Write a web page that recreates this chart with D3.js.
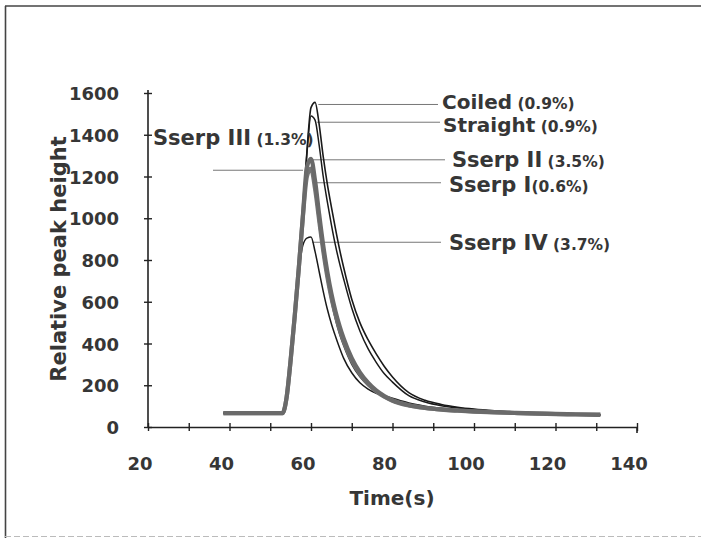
<!DOCTYPE html>
<html>
<head>
<meta charset="utf-8">
<script src="https://cdn.jsdelivr.net/npm/d3@7/dist/d3.min.js"></script>
<style>
  html, body { margin: 0; padding: 0; background: #ffffff; }
  svg { display: block; }
  text { font-family: "DejaVu Sans", "Liberation Sans", Arial, sans-serif; font-weight: bold; fill: #363636; }
</style>
</head>
<body>
<svg id="chart" width="701" height="538"></svg>
<script>
// Sampling times (s) shared by every trace
const times = [38.5, 53, 54, 55, 56, 57, 58, 59, 60, 61, 62, 63, 64, 65, 66, 67, 68,
               70, 72, 74, 76, 78, 80, 84, 88, 92, 96, 100, 105, 110, 115, 120, 125, 131];

// Relative peak height for each sample
const coiled   = [66, 66, 140, 320, 530, 760, 1030, 1320, 1530, 1555, 1450, 1295, 1165, 1055, 950, 852, 765,
                  612, 500, 418, 350, 290, 240, 165, 128, 108, 95, 86, 78, 72, 68, 64, 61, 58];
const straight = [66, 66, 140, 320, 530, 760, 1030, 1310, 1490, 1470, 1350, 1200, 1080, 970, 870, 785, 710,
                  570, 460, 375, 310, 255, 215, 150, 120, 102, 91, 83, 76, 70, 66, 62, 60, 57];
const sserpII  = [66, 66, 140, 320, 530, 760, 1010, 1245, 1285, 1180, 1020, 870, 745, 640, 555, 485, 425,
                  330, 262, 212, 175, 148, 128, 105, 92, 84, 79, 75, 71, 68, 65, 63, 61, 59];
const sserpI   = [66, 66, 140, 320, 530, 760, 1005, 1200, 1238, 1140, 990, 845, 720, 620, 540, 470, 412,
                  320, 255, 207, 171, 145, 126, 103, 91, 83, 78, 74, 70, 67, 64, 62, 60, 58];
const sserpIII = [66, 66, 140, 320, 530, 760, 1000, 1195, 1228, 1120, 960, 820, 700, 600, 515, 445, 390,
                  300, 240, 198, 168, 146, 130, 108, 94, 85, 79, 75, 71, 67, 64, 62, 60, 58];
const sserpIV  = [66, 66, 140, 320, 530, 740, 870, 905, 910, 840, 745, 650, 565, 495, 435, 380, 330,
                  260, 212, 182, 162, 150, 138, 115, 100, 90, 83, 78, 73, 69, 66, 63, 61, 58];

// Trace names and their stated precision
const names    = ["Sserp II", "Sserp I", "Sserp III", "Sserp IV", "Straight", "Coiled"];
const percents = ["(3.5%)", "(0.6%)", "(1.3%)", "(3.7%)", "(0.9%)", "(0.9%)"];
const traces   = [sserpII, sserpI, sserpIII, sserpIV, straight, coiled];

// Height at which each label's leader line meets its trace
const leaderValues = [1280, 1170, 1230, 885, 1460, 1545];

const xTicks = [20, 40, 60, 80, 100, 120, 140];
const xMinorTicks = [20, 30, 40, 50, 60, 70, 80, 90, 100, 110, 120, 130, 140];
const yTicks = [0, 200, 400, 600, 800, 1000, 1200, 1400, 1600];

const svg = d3.select("#chart");

// Outer frame (top and left edges, faint bottom edge)
svg.append("line").attr("x1", 5).attr("y1", 6).attr("x2", 701).attr("y2", 6)
  .attr("stroke", "#444").attr("stroke-width", 1.6);
svg.append("line").attr("x1", 5.5).attr("y1", 6).attr("x2", 5.5).attr("y2", 538)
  .attr("stroke", "#444").attr("stroke-width", 1.6);
svg.append("line").attr("x1", 5).attr("y1", 536.5).attr("x2", 701).attr("y2", 536.5)
  .attr("stroke", "#bbb").attr("stroke-width", 1).attr("stroke-dasharray", "6,3");

const x = d3.scaleLinear().domain([20, 140]).range([148, 637]);
const y = d3.scaleLinear().domain([0, 1600]).range([427, 93]);

// X axis: crossing tick marks every 10 s
const xAxis = svg.append("g").attr("transform", `translate(0,${y(0)})`)
  .call(d3.axisBottom(x).tickValues(xMinorTicks).tickSizeInner(4).tickSizeOuter(0).tickFormat(""));
xAxis.select(".domain").attr("stroke", "#222").attr("stroke-width", 1.6);
xAxis.selectAll(".tick line").attr("y1", -4).attr("stroke", "#222").attr("stroke-width", 1.4);
xAxis.append("line").attr("x1", x(140)).attr("x2", x(140)).attr("y1", 0).attr("y2", 6)
  .attr("stroke", "#222").attr("stroke-width", 1.6);

svg.append("g").selectAll("text").data(xTicks).join("text")
  .attr("x", d => x(d) - 8).attr("y", 470)
  .attr("text-anchor", "middle").attr("font-size", 18)
  .text(d => d);

// Y axis
const yAxis = svg.append("g").attr("transform", `translate(${x(20)},0)`)
  .call(d3.axisLeft(y).tickValues(yTicks).tickSizeInner(4).tickSizeOuter(0).tickFormat(""));
yAxis.select(".domain").attr("stroke", "#222").attr("stroke-width", 1.6)
  .attr("d", `M0,${y(0)}V${y(1600) - 3}`);
yAxis.selectAll(".tick line").attr("x2", -4).attr("x1", 4).attr("stroke", "#222").attr("stroke-width", 1.4);

svg.append("g").selectAll("text").data(yTicks).join("text")
  .attr("x", 119).attr("y", d => y(d) + 7)
  .attr("text-anchor", "end").attr("font-size", 18)
  .text(d => d);

// Axis titles
svg.append("text").attr("x", 392).attr("y", 505).attr("text-anchor", "middle")
  .attr("font-size", 20).text("Time(s)");
svg.append("text").attr("transform", "translate(66,259) rotate(-90)")
  .attr("text-anchor", "middle").attr("font-size", 21).text("Relative peak height");

// Leader lines from each trace to its label
const leaderStarts = [59.8, 60.6, null, 60.3, 61.5, 61.8];
const leaderEnds = [445, 441, 303, 441, 440, 438];
svg.append("g").selectAll("line").data(leaderValues).join("line")
  .attr("x1", (d, i) => leaderStarts[i] === null ? 213 : x(leaderStarts[i]))
  .attr("x2", (d, i) => leaderEnds[i])
  .attr("y1", d => y(d)).attr("y2", d => y(d))
  .attr("stroke", "#777").attr("stroke-width", 1);

// Traces: thin dark traces first, thick grey traces over them
const line = d3.line().x((d, i) => x(times[i])).y(d => y(d)).curve(d3.curveMonotoneX);
const strokes = ["#6a6a6a", "#747474", "#3a3a3a", "#1a1a1a", "#1a1a1a", "#1a1a1a"];
const widths  = [4.2, 4.2, 1.5, 1.5, 1.5, 1.6];
const drawOrder = [5, 4, 3, 2, 1, 0];
svg.append("g").selectAll("path").data(drawOrder).join("path")
  .attr("d", i => line(traces[i])).attr("fill", "none")
  .attr("stroke", i => strokes[i]).attr("stroke-width", i => widths[i])
  .attr("stroke-linejoin", "round");

// Labels: name in large type, precision in smaller type
const labelPos = [[452, 167], [449, 191.5], [153, 145], [449, 250], [443, 131.5], [442, 109]];
const labelSizes = [21, 21, 21, 21, 20, 20];
const labels = svg.append("g");
names.forEach((n, i) => {
  const t = labels.append("text").attr("x", labelPos[i][0]).attr("y", labelPos[i][1])
    .attr("font-size", labelSizes[i]);
  t.append("tspan").text(n);
  t.append("tspan").attr("font-size", 15.5).text((n === "Sserp I" ? "" : " ") + percents[i]);
});
</script>
</body>
</html>
